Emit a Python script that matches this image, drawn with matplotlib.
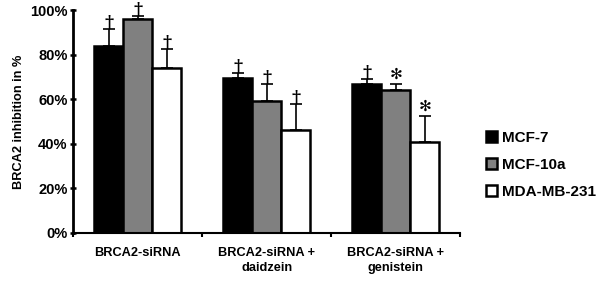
import numpy as np
import matplotlib
matplotlib.use('Agg')
import matplotlib.pyplot as plt

plt.rcParams['font.family'] = ['Liberation Sans', 'DejaVu Sans']

groups = ['BRCA2-siRNA', 'BRCA2-siRNA +\ndaidzein', 'BRCA2-siRNA +\ngenistein']
series = ['MCF-7', 'MCF-10a', 'MDA-MB-231']
colors = ['#000000', '#808080', '#ffffff']

# inhibition in %, and upper error
mcf7 = [84, 69.5, 67]
mcf10a = [96, 59, 64]
mda = [74, 46, 41]
err_mcf7 = [7.5, 2.5, 2]
err_mcf10a = [1.5, 8, 3]
err_mda = [8.5, 12, 11.5]
marks_mcf7 = ['†', '†', '†']
marks_mcf10a = ['†', '†', '✻']
marks_mda = ['†', '†', '✻']

values = [mcf7, mcf10a, mda]
errs = [err_mcf7, err_mcf10a, err_mda]
marks = [marks_mcf7, marks_mcf10a, marks_mda]

fig = plt.figure(figsize=(6, 2.81), dpi=100)
ax = fig.add_axes([0.122, 0.171, 0.645, 0.793])

x = np.arange(len(groups))
w = 0.225
for i in range(3):
    pos = x + (i - 1) * w
    ax.bar(pos, values[i], w, color=colors[i], edgecolor='black', linewidth=1.8,
           label=series[i], zorder=2)
    ax.errorbar(pos, values[i], yerr=[np.zeros(3), errs[i]], fmt='none',
                ecolor='black', elinewidth=1.2, capsize=4.5, capthick=1.2, zorder=1)
    for j in range(3):
        top = values[i][j] + errs[i][j]
        if marks[i][j] == '✻':
            ax.text(pos[j], top + 1, marks[i][j], ha='center', va='bottom',
                    fontsize=11, family=['DejaVu Sans'], clip_on=False)
        else:
            ax.text(pos[j], top + 0.8, marks[i][j], ha='center', va='baseline',
                    fontsize=12.5, fontweight='bold', family=['DejaVu Serif'],
                    clip_on=False)

ax.set_xlim(-0.5, 2.5)
ax.set_ylim(0, 100)
ax.set_yticks([0, 20, 40, 60, 80, 100])
ax.set_yticklabels([f'{v}%' for v in [0, 20, 40, 60, 80, 100]],
                   fontsize=10.5, fontweight='bold')
ax.set_xticks(x)
ax.set_xticklabels(groups, fontsize=9.2, fontweight='bold', linespacing=1.35)
ax.set_xticks([-0.5, 0.5, 1.5, 2.5], minor=True)
ax.tick_params(axis='x', which='major', length=0, pad=10)
ax.tick_params(axis='x', which='minor', length=3, width=1.5, direction='out')
ax.tick_params(axis='y', length=4, width=1.8, direction='inout', pad=2)
ax.set_ylabel('BRCA2 inhibition in %', fontsize=9.2, fontweight='bold', labelpad=4)

for s in ['top', 'right']:
    ax.spines[s].set_visible(False)
ax.spines['left'].set_linewidth(2)
ax.spines['bottom'].set_linewidth(1.5)

ax.legend(loc='center left', bbox_to_anchor=(1.03, 0.305), frameon=False,
          prop={'size': 11, 'weight': 'bold'}, handlelength=0.75, handleheight=0.75,
          handletextpad=0.35, labelspacing=0.85)

plt.savefig('out.png', dpi=100)
